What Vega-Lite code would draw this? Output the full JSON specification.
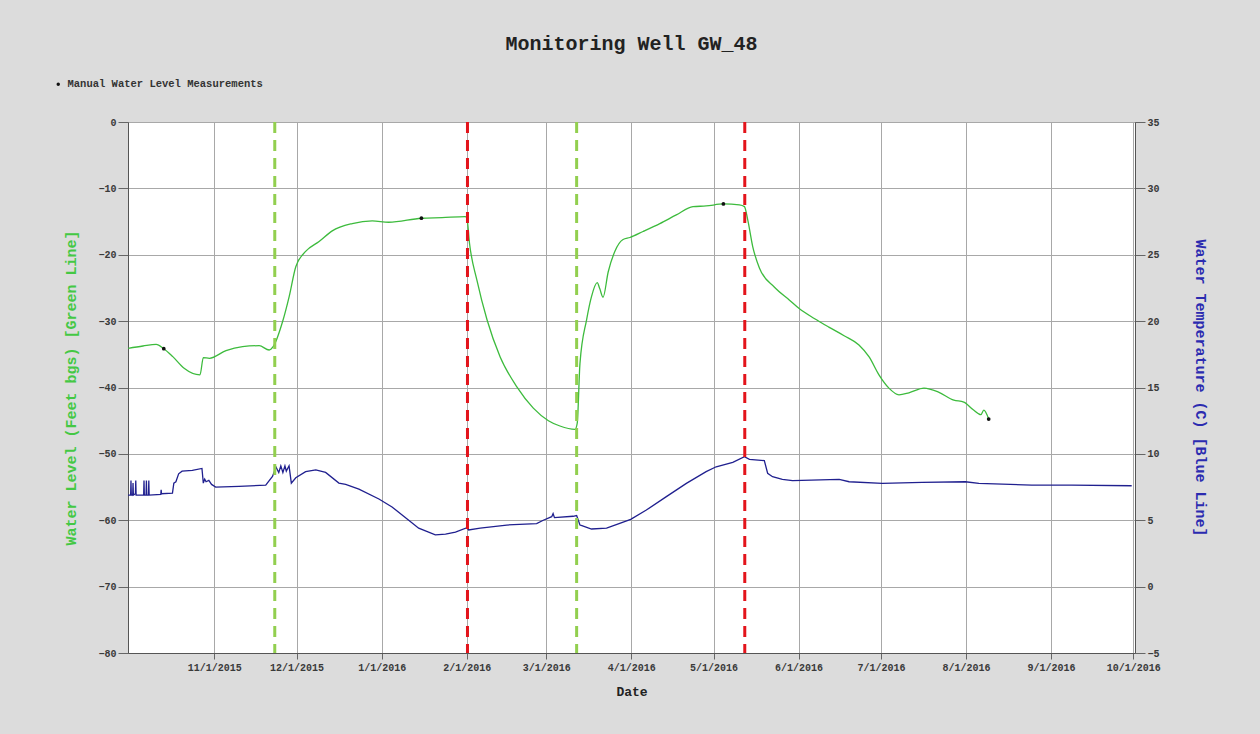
{
  "$schema": "https://vega.github.io/schema/vega-lite/v6.json",
  "width": 1007,
  "height": 531,
  "autosize": {"type": "none"},
  "padding": {"left": 128, "top": 122, "right": 125, "bottom": 81},
  "title": {"text": "Monitoring Well GW_48", "font": "Liberation Mono", "fontSize": 20, "fontWeight": "bold", "color": "#222222", "anchor": "middle", "offset": 25},
  "layer": [
    {
      "data": {"values": [
        {"date": "2015-09-30T14:00", "level": -34.1},
        {"date": "2015-10-06T00:00", "level": -33.75},
        {"date": "2015-10-10T19:00", "level": -33.5},
        {"date": "2015-10-13T14:00", "level": -34.15},
        {"date": "2015-10-16T21:00", "level": -35.35},
        {"date": "2015-10-21T00:00", "level": -37.1},
        {"date": "2015-10-26T19:00", "level": -38.1},
        {"date": "2015-10-28T00:00", "level": -35.5},
        {"date": "2015-10-30T05:00", "level": -35.6},
        {"date": "2015-11-05T06:00", "level": -34.45},
        {"date": "2015-11-11T07:00", "level": -33.85},
        {"date": "2015-11-17T09:00", "level": -33.7},
        {"date": "2015-11-21T00:00", "level": -34.35},
        {"date": "2015-11-22T11:00", "level": -33.85},
        {"date": "2015-11-25T21:00", "level": -30.1},
        {"date": "2015-11-28T07:00", "level": -26.3},
        {"date": "2015-11-30T17:00", "level": -21.8},
        {"date": "2015-12-04T07:00", "level": -19.5},
        {"date": "2015-12-09T05:00", "level": -18.0},
        {"date": "2015-12-14T00:00", "level": -16.4},
        {"date": "2015-12-21T07:00", "level": -15.3},
        {"date": "2015-12-28T14:00", "level": -14.9},
        {"date": "2016-01-03T14:00", "level": -15.1},
        {"date": "2016-01-15T12:00", "level": -14.5},
        {"date": "2016-01-23T00:00", "level": -14.4},
        {"date": "2016-01-31T12:00", "level": -14.25},
        {"date": "2016-02-01T02:00", "level": -14.5},
        {"date": "2016-02-02T01:00", "level": -18.3},
        {"date": "2016-02-04T17:00", "level": -23.8},
        {"date": "2016-02-08T10:00", "level": -29.8},
        {"date": "2016-02-13T05:00", "level": -35.4},
        {"date": "2016-02-19T07:00", "level": -39.9},
        {"date": "2016-02-25T07:00", "level": -43.1},
        {"date": "2016-03-01T19:00", "level": -45.0},
        {"date": "2016-03-06T00:00", "level": -45.8},
        {"date": "2016-03-11T12:00", "level": -46.3},
        {"date": "2016-03-12T07:00", "level": -45.4},
        {"date": "2016-03-13T07:00", "level": -36.4},
        {"date": "2016-03-15T17:00", "level": -29.8},
        {"date": "2016-03-17T12:00", "level": -26.3},
        {"date": "2016-03-19T14:00", "level": -24.2},
        {"date": "2016-03-20T12:00", "level": -25.1},
        {"date": "2016-03-21T17:00", "level": -26.4},
        {"date": "2016-03-23T14:00", "level": -22.6},
        {"date": "2016-03-26T00:00", "level": -19.5},
        {"date": "2016-03-29T00:00", "level": -17.7},
        {"date": "2016-03-31T12:00", "level": -17.4},
        {"date": "2016-04-05T07:00", "level": -16.5},
        {"date": "2016-04-11T10:00", "level": -15.3},
        {"date": "2016-04-17T10:00", "level": -14.0},
        {"date": "2016-04-23T12:00", "level": -12.75},
        {"date": "2016-04-28T07:00", "level": -12.65},
        {"date": "2016-05-04T14:00", "level": -12.35},
        {"date": "2016-05-10T10:00", "level": -12.5},
        {"date": "2016-05-12T06:00", "level": -12.75},
        {"date": "2016-05-13T11:00", "level": -14.75},
        {"date": "2016-05-15T07:00", "level": -18.8},
        {"date": "2016-05-17T17:00", "level": -22.0},
        {"date": "2016-05-23T05:00", "level": -24.9},
        {"date": "2016-05-28T14:00", "level": -26.8},
        {"date": "2016-06-01T05:00", "level": -28.1},
        {"date": "2016-06-06T17:00", "level": -29.6},
        {"date": "2016-06-12T00:00", "level": -30.9},
        {"date": "2016-06-17T14:00", "level": -32.2},
        {"date": "2016-06-23T00:00", "level": -33.6},
        {"date": "2016-06-26T17:00", "level": -35.4},
        {"date": "2016-06-30T07:00", "level": -38.1},
        {"date": "2016-07-03T22:00", "level": -40.1},
        {"date": "2016-07-07T14:00", "level": -41.1},
        {"date": "2016-07-11T05:00", "level": -40.8},
        {"date": "2016-07-16T17:00", "level": -40.1},
        {"date": "2016-07-22T00:00", "level": -40.7},
        {"date": "2016-07-27T14:00", "level": -41.9},
        {"date": "2016-07-31T05:00", "level": -42.2},
        {"date": "2016-08-03T19:00", "level": -43.4},
        {"date": "2016-08-06T10:00", "level": -44.1},
        {"date": "2016-08-07T12:00", "level": -43.4},
        {"date": "2016-08-09T07:00", "level": -44.75}
      ]},
      "mark": {"type": "line", "color": "#3dbb3d", "strokeWidth": 1.3, "interpolate": "monotone"},
      "encoding": {
        "x": {
          "field": "date", "type": "temporal", "title": "Date",
          "scale": {"domain": [{"year": 2015, "month": 9, "date": 30, "hours": 13}, {"year": 2016, "month": 10, "date": 1, "hours": 15}]},
          "axis": {
            "values": [
              {"year": 2015, "month": 11, "date": 1}, {"year": 2015, "month": 12, "date": 1},
              {"year": 2016, "month": 1, "date": 1}, {"year": 2016, "month": 2, "date": 1},
              {"year": 2016, "month": 3, "date": 1}, {"year": 2016, "month": 4, "date": 1},
              {"year": 2016, "month": 5, "date": 1}, {"year": 2016, "month": 6, "date": 1},
              {"year": 2016, "month": 7, "date": 1}, {"year": 2016, "month": 8, "date": 1},
              {"year": 2016, "month": 9, "date": 1}, {"year": 2016, "month": 10, "date": 1}
            ],
            "format": "%-m/%-d/%Y",
            "grid": true,
            "tickSize": 6,
            "labelPadding": 3,
            "labelAngle": 0,
            "titleFontSize": 13,
            "titleColor": "#222222",
            "titlePadding": 13
          }
        },
        "y": {
          "field": "level", "type": "quantitative",
          "scale": {"domain": [-80, 0], "nice": false, "zero": false},
          "axis": {
            "orient": "left",
            "title": "Water Level (Feet bgs) [Green Line]",
            "titleColor": "#44c844",
            "titleFontSize": 15,
            "values": [-80, -70, -60, -50, -40, -30, -20, -10, 0],
            "grid": true,
            "tickSize": 10,
            "labelPadding": 2,
            "titlePadding": 19
          }
        }
      }
    },
    {
      "data": {"values": [
        {"date": "2015-09-30T14:00", "temp": 6.9},
        {"date": "2015-10-01T12:00", "temp": 6.9},
        {"date": "2015-10-01T15:00", "temp": 8.0},
        {"date": "2015-10-01T18:00", "temp": 6.9},
        {"date": "2015-10-02T06:00", "temp": 6.9},
        {"date": "2015-10-02T09:00", "temp": 7.8},
        {"date": "2015-10-02T12:00", "temp": 6.9},
        {"date": "2015-10-03T06:00", "temp": 7.0},
        {"date": "2015-10-03T09:00", "temp": 8.0},
        {"date": "2015-10-03T12:00", "temp": 6.9},
        {"date": "2015-10-06T06:00", "temp": 6.9},
        {"date": "2015-10-06T09:00", "temp": 8.0},
        {"date": "2015-10-06T12:00", "temp": 6.9},
        {"date": "2015-10-07T03:00", "temp": 6.9},
        {"date": "2015-10-07T06:00", "temp": 8.0},
        {"date": "2015-10-07T09:00", "temp": 6.9},
        {"date": "2015-10-08T00:00", "temp": 6.9},
        {"date": "2015-10-08T03:00", "temp": 8.0},
        {"date": "2015-10-08T06:00", "temp": 6.9},
        {"date": "2015-10-12T12:00", "temp": 6.95},
        {"date": "2015-10-12T15:00", "temp": 7.3},
        {"date": "2015-10-12T18:00", "temp": 7.0},
        {"date": "2015-10-16T18:00", "temp": 7.05},
        {"date": "2015-10-17T06:00", "temp": 7.8},
        {"date": "2015-10-18T00:00", "temp": 7.9},
        {"date": "2015-10-19T00:00", "temp": 8.5},
        {"date": "2015-10-20T06:00", "temp": 8.7},
        {"date": "2015-10-24T00:00", "temp": 8.75},
        {"date": "2015-10-27T12:00", "temp": 8.9},
        {"date": "2015-10-28T00:00", "temp": 7.8},
        {"date": "2015-10-28T12:00", "temp": 8.1},
        {"date": "2015-10-29T00:00", "temp": 7.9},
        {"date": "2015-10-30T00:00", "temp": 8.0},
        {"date": "2015-10-31T00:00", "temp": 7.7},
        {"date": "2015-11-01T12:00", "temp": 7.5},
        {"date": "2015-11-10T00:00", "temp": 7.55},
        {"date": "2015-11-19T18:00", "temp": 7.65},
        {"date": "2015-11-22T05:00", "temp": 8.3},
        {"date": "2015-11-23T12:00", "temp": 9.0},
        {"date": "2015-11-24T12:00", "temp": 8.6},
        {"date": "2015-11-25T06:00", "temp": 9.1},
        {"date": "2015-11-26T00:00", "temp": 8.6},
        {"date": "2015-11-26T18:00", "temp": 9.1},
        {"date": "2015-11-27T06:00", "temp": 8.7},
        {"date": "2015-11-28T06:00", "temp": 9.1},
        {"date": "2015-11-29T02:00", "temp": 7.8},
        {"date": "2015-11-30T17:00", "temp": 8.2},
        {"date": "2015-12-04T07:00", "temp": 8.66},
        {"date": "2015-12-08T00:00", "temp": 8.8},
        {"date": "2015-12-11T14:00", "temp": 8.6},
        {"date": "2015-12-16T10:00", "temp": 7.8},
        {"date": "2015-12-18T21:00", "temp": 7.7},
        {"date": "2015-12-23T17:00", "temp": 7.35},
        {"date": "2015-12-31T00:00", "temp": 6.6},
        {"date": "2016-01-04T19:00", "temp": 6.0},
        {"date": "2016-01-10T21:00", "temp": 5.0},
        {"date": "2016-01-14T12:00", "temp": 4.4},
        {"date": "2016-01-20T14:00", "temp": 3.9},
        {"date": "2016-01-24T07:00", "temp": 3.95},
        {"date": "2016-01-27T22:00", "temp": 4.1},
        {"date": "2016-02-01T02:00", "temp": 4.44},
        {"date": "2016-02-01T17:00", "temp": 4.27},
        {"date": "2016-02-05T22:00", "temp": 4.4},
        {"date": "2016-02-15T14:00", "temp": 4.64},
        {"date": "2016-02-26T12:00", "temp": 4.74},
        {"date": "2016-02-28T22:00", "temp": 5.0},
        {"date": "2016-03-03T00:00", "temp": 5.27},
        {"date": "2016-03-03T12:00", "temp": 5.5},
        {"date": "2016-03-04T00:00", "temp": 5.2},
        {"date": "2016-03-10T19:00", "temp": 5.3},
        {"date": "2016-03-12T02:00", "temp": 5.35},
        {"date": "2016-03-13T07:00", "temp": 4.64},
        {"date": "2016-03-14T00:00", "temp": 4.6},
        {"date": "2016-03-17T12:00", "temp": 4.34},
        {"date": "2016-03-23T00:00", "temp": 4.4},
        {"date": "2016-03-27T19:00", "temp": 4.77},
        {"date": "2016-03-31T19:00", "temp": 5.07},
        {"date": "2016-04-06T12:00", "temp": 5.77},
        {"date": "2016-04-13T19:00", "temp": 6.78},
        {"date": "2016-04-21T02:00", "temp": 7.78},
        {"date": "2016-04-28T07:00", "temp": 8.66},
        {"date": "2016-05-01T23:00", "temp": 9.03},
        {"date": "2016-05-08T00:00", "temp": 9.36},
        {"date": "2016-05-12T06:00", "temp": 9.79},
        {"date": "2016-05-14T02:00", "temp": 9.59},
        {"date": "2016-05-19T12:00", "temp": 9.49},
        {"date": "2016-05-20T17:00", "temp": 8.54},
        {"date": "2016-05-22T12:00", "temp": 8.28},
        {"date": "2016-05-26T02:00", "temp": 8.08},
        {"date": "2016-05-29T19:00", "temp": 7.98},
        {"date": "2016-06-15T19:00", "temp": 8.08},
        {"date": "2016-06-19T10:00", "temp": 7.9},
        {"date": "2016-07-01T12:00", "temp": 7.78},
        {"date": "2016-07-16T00:00", "temp": 7.85},
        {"date": "2016-07-31T19:00", "temp": 7.9},
        {"date": "2016-08-05T17:00", "temp": 7.78},
        {"date": "2016-08-25T00:00", "temp": 7.65},
        {"date": "2016-09-08T14:00", "temp": 7.65},
        {"date": "2016-09-30T10:00", "temp": 7.6}
      ]},
      "mark": {"type": "line", "color": "#20208f", "strokeWidth": 1.3},
      "encoding": {
        "x": {"field": "date", "type": "temporal", "title": "Date"},
        "y": {
          "field": "temp", "type": "quantitative",
          "scale": {"domain": [-5, 35], "nice": false, "zero": false},
          "axis": {
            "orient": "right",
            "title": "Water Temperature (C) [Blue Line]",
            "titleColor": "#2b2bb0",
            "titleFontSize": 15,
            "values": [-5, 0, 5, 10, 15, 20, 25, 30, 35],
            "grid": false,
            "tickSize": 10,
            "labelPadding": 2,
            "titlePadding": 33
          }
        }
      }
    },
    {
      "data": {"values": [
        {"date": "2015-10-13T14:00", "level": -34.15},
        {"date": "2016-01-15T12:00", "level": -14.5},
        {"date": "2016-05-04T14:00", "level": -12.35},
        {"date": "2016-08-09T07:00", "level": -44.75}
      ]},
      "mark": {"type": "point", "filled": true, "shape": "circle", "size": 14, "opacity": 1},
      "encoding": {
        "x": {"field": "date", "type": "temporal", "title": "Date"},
        "y": {"field": "level", "type": "quantitative", "scale": {"domain": [-80, 0], "nice": false, "zero": false}, "axis": null},
        "color": {
          "datum": "Manual Water Level Measurements",
          "type": "nominal",
          "scale": {"range": ["#111111"]},
          "legend": {
            "orient": "none", "legendX": -75, "legendY": -43, "title": null,
            "padding": 0, "labelFont": "Liberation Mono", "labelFontSize": 10.5,
            "labelFontWeight": "bold", "labelColor": "#333333", "labelLimit": 0,
            "symbolSize": 12, "symbolType": "circle", "labelOffset": 4
          }
        }
      }
    },
    {
      "data": {"values": [
        {"date": "2015-11-23T01:00"},
        {"date": "2016-03-12T02:00"}
      ]},
      "mark": {"type": "rule", "color": "#92cf4f", "strokeWidth": 3, "strokeDash": [11, 7]},
      "encoding": {"x": {"field": "date", "type": "temporal", "title": "Date"}}
    },
    {
      "data": {"values": [
        {"date": "2016-02-01T07:00"},
        {"date": "2016-05-12T09:00"}
      ]},
      "mark": {"type": "rule", "color": "#e3141b", "strokeWidth": 3, "strokeDash": [11, 7]},
      "encoding": {"x": {"field": "date", "type": "temporal", "title": "Date"}}
    }
  ],
  "resolve": {"scale": {"y": "independent"}},
  "config": {
    "background": "#dcdcdc",
    "view": {"fill": "white", "stroke": "#888888", "strokeWidth": 1},
    "font": "Liberation Mono",
    "axis": {
      "labelFont": "Liberation Mono",
      "labelFontSize": 10,
      "labelFontWeight": "bold",
      "labelColor": "#3a3a3a",
      "tickColor": "#666666",
      "domainColor": "#555555",
      "gridColor": "#a8a8a8",
      "gridWidth": 1,
      "titleFont": "Liberation Mono",
      "titleFontWeight": "bold"
    }
  }
}
